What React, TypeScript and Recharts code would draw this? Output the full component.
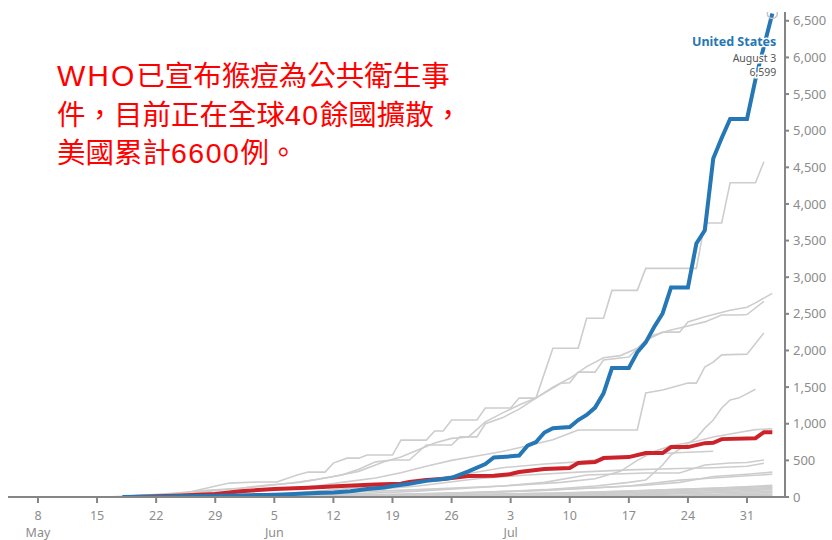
import React from "react";
import { LineChart, Line, XAxis, YAxis } from "recharts";

type Pt = [number, number];

// day 0 = May 8
const X_TICKS = [0, 7, 14, 21, 28, 35, 42, 49, 56, 63, 70, 77, 84];
const X_LABELS = ["8", "15", "22", "29", "5", "12", "19", "26", "3", "10", "17", "24", "31"];
const MONTHS: Record<number, string> = { 0: "May", 28: "Jun", 56: "Jul" };
const Y_TICKS = [0, 500, 1000, 1500, 2000, 2500, 3000, 3500, 4000, 4500, 5000, 5500, 6000, 6500];

const TITLE = ["WHO已宣布猴痘為公共衛生事", "件，目前正在全球40餘國擴散，", "美國累計6600例。"];

const US: Pt[] = [
  [10, 0], [12, 2], [14, 5], [17, 10], [20, 15], [23, 20], [25, 25], [27, 28], [29, 35], [31, 45],
  [33, 55], [35, 62], [37, 80], [39, 110], [41, 130], [42, 150], [44, 180], [46, 220], [48, 245],
  [49, 262], [51, 350], [53, 450], [54, 540], [56, 555], [57, 565], [58, 700], [59, 750], [60, 880],
  [61, 940], [63, 955], [64, 1050], [65, 1120], [66, 1220], [67, 1415], [68, 1760], [70, 1760],
  [71, 1975], [72, 2110], [73, 2320], [74, 2505], [75, 2860], [77, 2860], [78, 3460], [79, 3640],
  [80, 4620], [81, 4900], [82, 5160], [84, 5160], [85, 5700], [86, 6150], [87, 6599],
];

const RED: Pt[] = [
  [11, 0], [14, 10], [17, 20], [21, 40], [24, 80], [28, 110], [32, 125], [36, 150], [40, 170],
  [43, 180], [44, 205], [46, 231], [48, 245], [51, 286], [54, 290], [56, 313], [57, 340], [60, 381],
  [63, 395], [64, 463], [66, 477], [67, 531], [70, 545], [72, 600], [74, 600], [75, 681], [77, 681],
  [79, 735], [80, 740], [81, 790], [85, 803], [86, 885], [87, 885],
];

const G_SPAIN: Pt[] = [
  [13, 0], [17, 40], [19, 95], [21.6, 164], [22.7, 190], [26, 205], [28.3, 205], [30.7, 300], [32, 340],
  [34, 340], [35, 463], [36.6, 530], [38, 530], [39, 573], [42, 573], [43, 776], [46, 776], [47, 900],
  [48, 900], [49, 1050], [52, 1050], [53, 1215], [56, 1215], [57, 1350], [59, 1350], [61, 2030],
  [64, 2030], [65, 2440], [67, 2440], [68, 2820], [71, 2820], [72, 3120], [78, 3120], [79, 3740],
  [81, 3740], [82, 4290], [85, 4290], [86, 4577],
];

const G_GERMANY: Pt[] = [
  [12, 0], [16, 15], [19, 60], [22, 100], [26, 140], [30, 190], [33, 240], [36, 300], [38, 380],
  [40, 480], [42, 505], [44, 505], [46, 710], [49, 710], [50, 820], [52, 820], [53, 1000], [55, 1080],
  [57, 1200], [59, 1350], [60, 1420], [62, 1555], [63, 1560], [64, 1705], [66, 1705], [67, 1870],
  [70, 1910], [72, 2140], [74, 2250], [76, 2250], [77, 2390], [79, 2460], [82, 2550], [84, 2590],
  [85, 2650], [87, 2780],
];

const G_UK: Pt[] = [
  [8, 0], [12, 20], [16, 50], [20, 90], [24, 120], [27, 160], [31, 200], [35, 280], [38, 350],
  [41, 480], [43, 545], [45, 640], [47, 737], [49, 800], [51, 820], [53, 1025], [55, 1145], [57, 1255],
  [59, 1350], [61, 1500], [63, 1620], [65, 1780], [67, 1900], [69, 1930], [71, 2030], [73, 2210],
  [75, 2280], [77, 2335], [79, 2390], [81, 2485], [83, 2485], [84, 2490], [86, 2670],
];

const G_FRANCE: Pt[] = [
  [10, 0], [14, 10], [18, 30], [22, 60], [26, 90], [30, 120], [33, 150], [36, 200], [40, 260],
  [43, 330], [46, 420], [49, 500], [52, 560], [55, 620], [58, 700], [61, 780], [63, 870], [64, 915],
  [71, 915], [72, 1420], [74, 1460], [77, 1555], [78, 1555], [79, 1775], [80, 1840], [81, 1940],
  [84, 1950], [86, 2240],
];

const G_NL: Pt[] = [
  [30, 0], [40, 20], [50, 50], [60, 100], [66, 150], [70, 200], [72, 232], [74, 437], [75, 575],
  [78, 805], [79, 940], [80, 1050], [81, 1215], [82, 1325], [83, 1350], [85, 1470],
];

const G_6: Pt[] = [
  [15, 0], [25, 20], [35, 60], [45, 100], [55, 150], [62, 200], [66, 250], [69, 350], [71, 500],
  [73, 620], [75, 700], [78, 760], [80, 820], [83, 880], [85, 920], [87, 930],
];
const G_7: Pt[] = [[20, 0], [30, 50], [40, 150], [50, 300], [55, 400], [60, 450], [64, 480], [70, 560], [75, 600], [80, 625]];
const G_8: Pt[] = [[25, 0], [35, 30], [45, 80], [55, 150], [60, 200], [65, 300], [72, 327], [76, 327], [79, 437], [82, 465], [84, 470], [86, 505]];
const G_9: Pt[] = [[20, 0], [35, 60], [45, 150], [52, 250], [58, 300], [64, 340], [70, 370], [76, 390], [80, 400], [84, 420], [86, 460]];
const G_10: Pt[] = [[20, 0], [40, 30], [55, 70], [65, 120], [72, 160], [76, 200], [80, 280], [84, 310], [87, 340]];
const G_11: Pt[] = [[25, 0], [45, 40], [60, 90], [70, 150], [76, 230], [80, 260], [84, 290], [87, 310]];
const S_1: Pt[] = [[15, 0], [30, 10], [45, 25], [60, 50], [70, 80], [80, 120], [87, 160]];
const S_2: Pt[] = [[18, 0], [35, 10], [50, 30], [65, 60], [75, 100], [87, 145]];
const S_3: Pt[] = [[20, 0], [40, 5], [55, 20], [70, 60], [80, 100], [87, 130]];
const S_4: Pt[] = [[22, 0], [45, 10], [60, 30], [75, 70], [87, 115]];
const S_5: Pt[] = [[25, 0], [50, 10], [65, 30], [78, 60], [87, 100]];
const S_6: Pt[] = [[28, 0], [55, 10], [70, 25], [87, 80]];
const S_7: Pt[] = [[30, 0], [60, 5], [75, 20], [87, 60]];
const S_8: Pt[] = [[35, 0], [65, 5], [80, 20], [87, 40]];
const S_9: Pt[] = [[40, 0], [70, 5], [87, 25]];
const S_10: Pt[] = [[45, 0], [75, 3], [87, 12]];

const GREYS = [
  S_10, S_9, S_8, S_7, S_6, S_5, S_4, S_3, S_2, S_1,
  G_11, G_10, G_9, G_8, G_7, G_6, G_NL, G_FRANCE, G_UK, G_GERMANY, G_SPAIN,
];

const rows = (pts: Pt[]) => pts.map(([d, v]) => ({ d, v }));

const AXIS = "#858585";
const LABEL = "#8c8c8c";
const FONT = "'Noto Sans', sans-serif";

function DayTick({ x, y, payload }: any) {
  const i = X_TICKS.indexOf(payload.value);
  const m = MONTHS[payload.value];
  return (
    <g>
      <text x={x} y={y + 15} textAnchor="middle" fill={LABEL} fontSize={12.5} fontFamily={FONT}>
        {X_LABELS[i]}
      </text>
      {m && (
        <text x={x} y={y + 32} textAnchor="middle" fill={LABEL} fontSize={12.5} fontFamily={FONT}>
          {m}
        </text>
      )}
    </g>
  );
}

function UsEnd(props: any) {
  const { cx, cy, index } = props;
  if (index !== US.length - 1) return <g key={`u${index}`} />;
  const halo = { stroke: "#fff", strokeWidth: 3, paintOrder: "stroke" as any };
  return (
    <g key="us-end" fontFamily={FONT}>
      <circle cx={cx} cy={cy} r={5} fill="none" stroke="#c4c4c4" strokeWidth={1.5} />
      <text x={cx + 4} y={cy + 32} textAnchor="end" fill="#2577b5" fontSize={12.5} fontWeight={700} {...halo}>
        United States
      </text>
      <text x={cx + 4} y={cy + 48} textAnchor="end" fill="#555" fontSize={10.5} {...halo}>
        August 3
      </text>
      <text x={cx + 4} y={cy + 62.5} textAnchor="end" fill="#555" fontSize={10.5} {...halo}>
        {US[US.length - 1][1].toLocaleString("en-US")}
      </text>
    </g>
  );
}

// latin runs in the title are set in a wider face, like the original
const LATIN = "'Liberation Sans', Arial, sans-serif";

function TitleLine({ text }: { text: string }) {
  const parts = text.split(/([A-Za-z0-9]+)/).filter(Boolean);
  return (
    <div>
      {parts.map((p, i) =>
        /[A-Za-z]/.test(p) ? (
          <span key={i} style={{ fontFamily: LATIN, fontSize: 30, letterSpacing: 2 }}>
            {p}
          </span>
        ) : /\d/.test(p) ? (
          <span key={i} style={{ fontFamily: LATIN, letterSpacing: 1.5 }}>
            {p}
          </span>
        ) : (
          <span key={i}>{p}</span>
        )
      )}
    </div>
  );
}

export default function App() {
  return (
    <div style={{ position: "absolute", left: 0, top: 0, width: 832, height: 540, background: "#fff" }}>
      <LineChart width={832} height={540} margin={{ top: 12, right: 0, bottom: 0, left: 8 }}>
        <XAxis
          dataKey="d"
          type="number"
          domain={[-3.55, 88.5]}
          ticks={X_TICKS}
          tick={<DayTick />}
          height={43}
          tickSize={6}
          tickMargin={2}
          stroke={AXIS}
          strokeWidth={2}
          allowDataOverflow
        />
        <YAxis
          orientation="right"
          type="number"
          domain={[0, 6620]}
          ticks={Y_TICKS}
          width={47}
          tickSize={4}
          tickMargin={4}
          stroke={AXIS}
          strokeWidth={2}
          tick={{ fill: LABEL, fontSize: 13, fontFamily: FONT, textAnchor: "start" }}
          tickFormatter={(v: number) => v.toLocaleString("en-US")}
          allowDataOverflow
        />
        {GREYS.map((g, i) => (
          <Line
            key={i}
            data={rows(g)}
            dataKey="v"
            type="linear"
            stroke="#cdcdcd"
            strokeWidth={1.6}
            dot={false}
            activeDot={false}
            isAnimationActive={false}
          />
        ))}
        <Line
          data={rows(RED)}
          dataKey="v"
          type="linear"
          stroke="#cc2229"
          strokeWidth={4}
          dot={false}
          activeDot={false}
          isAnimationActive={false}
        />
        <Line
          data={rows(US)}
          dataKey="v"
          type="linear"
          stroke="#2577b5"
          strokeWidth={4}
          dot={UsEnd}
          activeDot={false}
          isAnimationActive={false}
        />
      </LineChart>
      <div
        style={{
          position: "absolute",
          left: 57,
          top: 56,
          color: "#ff0000",
          fontFamily: "'Noto Sans CJK TC', sans-serif",
          fontSize: 28.5,
          lineHeight: "36.7px",
          whiteSpace: "nowrap",
        }}
      >
        {TITLE.map((t, i) => (
          <TitleLine key={i} text={t} />
        ))}
      </div>
    </div>
  );
}
